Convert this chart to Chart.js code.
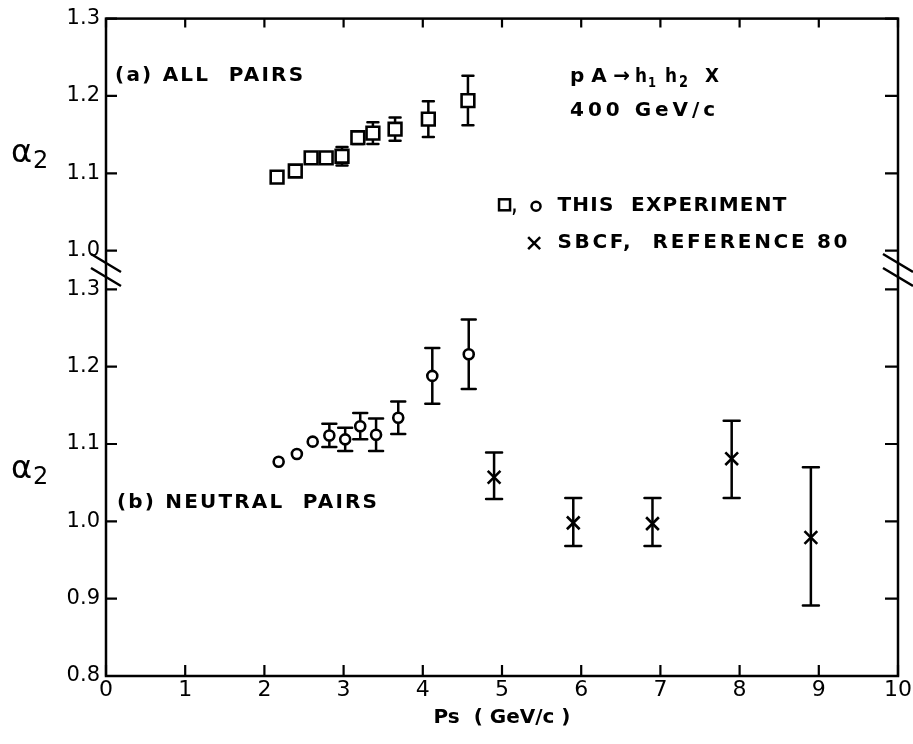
<!DOCTYPE html>
<html><head><meta charset="utf-8">
<script src="https://cdn.jsdelivr.net/npm/chart.js@4.4.1/dist/chart.umd.min.js"></script>
<style>html,body{margin:0;padding:0;background:#fff}canvas{display:block}</style>
</head><body>
<canvas id="c" width="913" height="744"></canvas>
<script>
const FONT = "'DejaVu Sans', 'Liberation Sans', sans-serif";

// ---- axis ticks ----
const xTicks = [0, 1, 2, 3, 4, 5, 6, 7, 8, 9, 10];
const lowerTicks = [0.8, 0.9, 1.0, 1.1, 1.2, 1.3];   // panel (b)
const upperTicks = [1.0, 1.1, 1.2, 1.3];             // panel (a)
const UPPER_SHIFT = 0.35;                            // panel (a) sits above a broken axis

// ---- (a) all pairs, this experiment (squares) ----
const allPairsX   = [2.16, 2.39, 2.59, 2.78, 2.98, 3.18, 3.37, 3.65, 4.07, 4.57];
const allPairsY   = [1.095, 1.103, 1.120, 1.120, 1.122, 1.146, 1.152, 1.157, 1.170, 1.194];
const allPairsErr = [0, 0, 0, 0, 0.012, 0.008, 0.014, 0.015, 0.023, 0.032];

// ---- (b) neutral pairs, this experiment (circles) ----
const neutralX   = [2.18, 2.41, 2.61, 2.82, 3.02, 3.21, 3.41, 3.69, 4.12, 4.58];
const neutralY   = [1.077, 1.087, 1.103, 1.111, 1.106, 1.123, 1.112, 1.134, 1.188, 1.216];
const neutralErr = [0, 0, 0, 0.015, 0.015, 0.017, 0.021, 0.021, 0.036, 0.045];

// ---- (b) SBCF, reference 80 (crosses) ----
const sbcfX    = [4.9, 5.9, 6.9, 7.9, 8.9];
const sbcfY    = [1.057, 0.998, 0.997, 1.081, 0.979];
const sbcfLow  = [1.029, 0.968, 0.968, 1.030, 0.891];
const sbcfHigh = [1.089, 1.030, 1.030, 1.130, 1.070];

const yAxisTicks = lowerTicks.concat(upperTicks.map(v => +(v + UPPER_SHIFT).toFixed(2)));

const errSeries = [
  { xs: allPairsX, lo: allPairsY.map((v, i) => v - allPairsErr[i] + UPPER_SHIFT),
    hi: allPairsY.map((v, i) => v + allPairsErr[i] + UPPER_SHIFT), has: allPairsErr.map(e => e > 0), cap: 5.5 },
  { xs: neutralX, lo: neutralY.map((v, i) => v - neutralErr[i]),
    hi: neutralY.map((v, i) => v + neutralErr[i]), has: neutralErr.map(e => e > 0), cap: 7 },
  { xs: sbcfX, lo: sbcfLow, hi: sbcfHigh, has: sbcfX.map(() => true), cap: 8 }
];

function fitText(ctx, text, x, cy, w, size, weight) {
  ctx.save();
  ctx.font = (weight || 'normal') + ' ' + size + 'px ' + FONT;
  ctx.fillStyle = '#000';
  ctx.textBaseline = 'middle';
  ctx.textAlign = 'left';
  let m = ctx.measureText(text).width;
  if ('letterSpacing' in ctx && m < w) {
    const n = Array.from(text).length;
    ctx.letterSpacing = ((w - m) / Math.max(1, n - 1)).toFixed(2) + 'px';
    ctx.fillText(text, x, cy);
  } else {
    ctx.fillText(text, x, cy, w);
  }
  ctx.restore();
}

const decor = {
  id: 'decor',
  beforeDatasetsDraw(chart) {
    const { ctx, scales: { x, y } } = chart;
    ctx.save();
    ctx.strokeStyle = '#000';
    ctx.lineWidth = 2.5;
    ctx.lineCap = 'round';
    errSeries.forEach(s => {
      s.xs.forEach((xv, i) => {
        if (!s.has[i]) return;
        const px = x.getPixelForValue(xv);
        const t = y.getPixelForValue(s.hi[i]);
        const b = y.getPixelForValue(s.lo[i]);
        ctx.beginPath();
        ctx.moveTo(px, t); ctx.lineTo(px, b);
        ctx.moveTo(px - s.cap, t); ctx.lineTo(px + s.cap, t);
        ctx.moveTo(px - s.cap, b); ctx.lineTo(px + s.cap, b);
        ctx.stroke();
      });
    });
    ctx.restore();
  },
  afterDraw(chart) {
    const { ctx, chartArea: a, scales: { x, y } } = chart;
    ctx.save();
    ctx.strokeStyle = '#000';
    ctx.fillStyle = '#000';
    // frame
    ctx.lineWidth = 2.5;
    ctx.strokeRect(a.left, a.top, a.right - a.left, a.bottom - a.top);
    // inward ticks
    ctx.lineWidth = 2.2;
    ctx.beginPath();
    xTicks.forEach(v => {
      const px = x.getPixelForValue(v);
      ctx.moveTo(px, a.bottom); ctx.lineTo(px, a.bottom - 11);
      ctx.moveTo(px, a.top); ctx.lineTo(px, a.top + 9);
    });
    yAxisTicks.forEach(v => {
      const py = y.getPixelForValue(v);
      ctx.moveTo(a.left, py); ctx.lineTo(a.left + 11, py);
      ctx.moveTo(a.right, py); ctx.lineTo(a.right - 13, py);
    });
    ctx.stroke();
    // axis break marks
    const yMid = (y.getPixelForValue(1.3) + y.getPixelForValue(1.0 + UPPER_SHIFT)) / 2;
    ctx.lineWidth = 2.5;
    ctx.beginPath();
    [a.left, a.right].forEach(ax => {
      [-7, 7].forEach(d => {
        ctx.moveTo(ax - 15, yMid + d - 9);
        ctx.lineTo(ax + 15, yMid + d + 9);
      });
    });
    ctx.stroke();

    const X = v => x.getPixelForValue(v);
    const Y = v => y.getPixelForValue(v);
    const W = 'bold';
    // panel labels and annotations
    fitText(ctx, '(a) ALL  PAIRS', X(0.114), Y(1.5756), 188, 20, W);
    // reaction: pA → h1 h2 X  (subscripts lowered)
    const ry = Y(1.5743), rx = X(5.86);
    fitText(ctx, 'pA→', rx, ry, 60, 20, W);
    fitText(ctx, 'h', rx + 65, ry, 12, 20, W);
    fitText(ctx, '1', rx + 78, ry + 6, 8, 14, W);
    fitText(ctx, 'h', rx + 95, ry, 12, 20, W);
    fitText(ctx, '2', rx + 109, ry + 6, 9, 15, W);
    fitText(ctx, 'X', rx + 135, ry, 14, 20, W);
    fitText(ctx, '400 GeV/c', X(5.86), Y(1.5306), 145, 20, W);
    fitText(ctx, '(b) NEUTRAL  PAIRS', X(0.139), Y(1.0234), 260, 20, W);
    // legend
    const ly1 = Y(1.4086), ly2 = Y(1.3598);
    ctx.lineWidth = 2.5;
    ctx.strokeRect(X(4.95) + 1, ly1 - 6, 11, 11);
    fitText(ctx, ',', X(4.95) + 14, ly1 + 1, 5, 20, W);
    ctx.beginPath(); ctx.arc(X(4.95) + 38, ly1 + 1, 4.5, 0, Math.PI * 2); ctx.stroke();
    fitText(ctx, 'THIS  EXPERIMENT', X(5.70), ly1, 229, 20, W);
    ctx.beginPath();
    const cx = X(5.33) + 6;
    ctx.moveTo(cx - 6, ly2 - 6); ctx.lineTo(cx + 6, ly2 + 6);
    ctx.moveTo(cx + 6, ly2 - 6); ctx.lineTo(cx - 6, ly2 + 6);
    ctx.stroke();
    fitText(ctx, 'SBCF,  REFERENCE 80', X(5.70), ly2, 290, 20, W);
    // y-axis titles (one per panel)
    [1.4754, 1.067].forEach(v => {
      ctx.font = '32px ' + FONT;
      ctx.textBaseline = 'middle';
      ctx.textAlign = 'left';
      ctx.fillText('α', 11, Y(v));
      ctx.font = '24px ' + FONT;
      ctx.fillText('2', 33, Y(v) + 8);
    });
    ctx.restore();
  }
};

new Chart(document.getElementById('c'), {
  type: 'scatter',
  data: {
    datasets: [
      { label: 'All pairs (this experiment)',
        data: allPairsX.map((v, i) => ({ x: v, y: allPairsY[i] + UPPER_SHIFT })),
        pointStyle: 'rect', pointRadius: 9, borderWidth: 2.6,
        borderColor: '#000', backgroundColor: '#fff' },
      { label: 'Neutral pairs (this experiment)',
        data: neutralX.map((v, i) => ({ x: v, y: neutralY[i] })),
        pointStyle: 'circle', pointRadius: 5, borderWidth: 2.6,
        borderColor: '#000', backgroundColor: '#fff' },
      { label: 'SBCF, reference 80',
        data: sbcfX.map((v, i) => ({ x: v, y: sbcfY[i] })),
        pointStyle: 'crossRot', pointRadius: 9, borderWidth: 2.6,
        borderColor: '#000', backgroundColor: '#000' }
    ]
  },
  options: {
    responsive: false,
    animation: false,
    devicePixelRatio: 1,
    layout: { padding: { left: 0, right: 15, top: 14, bottom: 0 } },
    plugins: { legend: { display: false }, tooltip: { enabled: false } },
    scales: {
      x: {
        type: 'linear', min: 0, max: 10,
        afterBuildTicks: s => { s.ticks = xTicks.map(v => ({ value: v })); },
        afterFit: s => { s.height = 68; },
        grid: { display: false, drawTicks: false },
        border: { display: false },
        ticks: { color: '#000', font: { family: FONT, size: 22 }, padding: 1, maxRotation: 0, autoSkip: false },
        title: { display: true, text: 'Ps  ( GeV/c )', color: '#000',
                 font: { family: FONT, size: 20, weight: 'bold' }, padding: { top: 0, bottom: 14 } }
      },
      y: {
        type: 'linear', min: 0.8, max: 1.3 + UPPER_SHIFT,
        afterBuildTicks: s => { s.ticks = yAxisTicks.map(v => ({ value: v })); },
        afterFit: s => { s.width = 106; },
        grid: { display: false, drawTicks: false },
        border: { display: false },
        ticks: { color: '#000', font: { family: FONT, size: 21 }, padding: 6, autoSkip: false,
                 callback: v => (v > 1.32 ? v - UPPER_SHIFT : v).toFixed(1) }
      }
    }
  },
  plugins: [decor]
});
</script>
</body></html>
